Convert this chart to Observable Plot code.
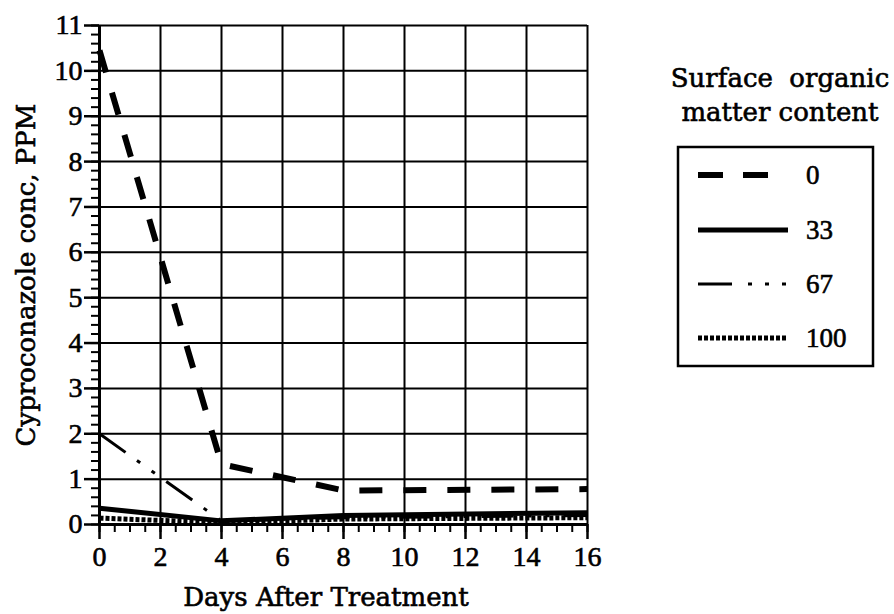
<!DOCTYPE html>
<html><head><meta charset="utf-8">
<script src="https://cdn.jsdelivr.net/npm/d3@7"></script>
<script src="https://cdn.jsdelivr.net/npm/@observablehq/plot@0.6"></script>
<style>
body{margin:0;background:#fff;}
#wrap{position:relative;width:894px;height:614px;overflow:hidden;background:#fff;}
#legend{position:absolute;left:0;top:0;}
#wrap svg text{stroke:#000;stroke-width:0.6px;paint-order:stroke;}
</style></head><body>
<div id="wrap"></div>
<script>
// ---- data ----
const days = [0, 4, 8, 16];
const om0 = [10.45, 1.33, 0.75, 0.78];
const om33 = [0.36, 0.08, 0.2, 0.26];
const om67 = [2.0, 0.08, 0.15, 0.2];
const om100 = [0.14, 0.04, 0.12, 0.15];
const seriesNames = ["0", "33", "67", "100"];
const xTicks = [0, 2, 4, 6, 8, 10, 12, 14, 16];
const yTicks = [0, 1, 2, 3, 4, 5, 6, 7, 8, 9, 10, 11];
const xLabel = "Days After Treatment";
const yLabel = "Cyproconazole conc, PPM";
const legendTitle = ["Surface  organic", "matter content"];

// ---- styles ----
const titleFont = "'DejaVu Serif', serif";
const numFont = "'Liberation Serif', serif";
const styles = {
  "0":   {strokeWidth: 6,   strokeDasharray: "23,21", legendDash: "25,20", legendLen: 70},
  "33":  {strokeWidth: 5,   strokeDasharray: null, legendDash: null, legendLen: 90},
  "67":  {strokeWidth: 3,   strokeDasharray: "32,14,4,14,4,14", legendDash: "34,16,4,13,4,13,4,200", legendLen: 90},
  "100": {strokeWidth: 5,   strokeDasharray: "4,2", legendDash: "4,2", legendLen: 90}
};
const seriesVals = {"0": om0, "33": om33, "67": om67, "100": om100};
const rows = s => days.map((d, i) => ({day: d, ppm: seriesVals[s][i], s}));

const minorX = d3.range(0, 33).map(i => i * 0.5);
const minorY = d3.range(0, 56).map(i => +(i * 0.2).toFixed(1));
const drawOrder = ["100", "67", "33", "0"];

const chart = Plot.plot({
  width: 894, height: 614,
  marginLeft: 99, marginRight: 307, marginTop: 25, marginBottom: 90,
  style: {fontFamily: numFont, background: "white", color: "black", overflow: "visible"},
  x: {domain: [0, 16]},
  y: {domain: [0, 11]},
  marks: [
    Plot.gridX(xTicks, {stroke: "black", strokeOpacity: 1, strokeWidth: 2}),
    Plot.gridY(yTicks, {stroke: "black", strokeOpacity: 1, strokeWidth: 2}),
    Plot.axisX(minorX, {tickSize: 8, tickFormat: () => "", label: null, strokeWidth: 2}),
    Plot.axisX(xTicks, {tickSize: 15, tickPadding: 7, fontSize: 28, strokeWidth: 2.5, label: null}),
    Plot.axisY(minorY, {tickSize: 8, tickFormat: () => "", label: null, strokeWidth: 2}),
    Plot.axisY(yTicks, {tickSize: 15, tickPadding: 2, fontSize: 28, strokeWidth: 2.5, label: null}),
    Plot.ruleX([0], {stroke: "black", strokeWidth: 3}),
    Plot.ruleY([0], {stroke: "black", strokeWidth: 3}),
    ...drawOrder.map(s => Plot.line(rows(s), {
      x: "day", y: "ppm", stroke: "black",
      strokeWidth: styles[s].strokeWidth,
      strokeDasharray: styles[s].strokeDasharray,
      strokeLinecap: "butt", strokeLinejoin: "miter"
    }))
  ]
});
document.getElementById("wrap").appendChild(chart);

// ---- axis titles and legend ----
const lg = d3.select("#wrap").append("svg").attr("id", "legend")
  .attr("width", 894).attr("height", 614);
lg.append("text").attr("x", 326).attr("y", 606).attr("text-anchor", "middle")
  .attr("font-family", titleFont).attr("font-size", 26).text(xLabel);
lg.append("text").attr("transform", "translate(35,275) rotate(-90)").attr("text-anchor", "middle")
  .attr("font-family", titleFont).attr("font-size", 26).text(yLabel);

lg.selectAll("text.title").data(legendTitle).join("text")
  .attr("class", "title")
  .attr("x", 780).attr("y", (d, i) => 87 + i * 34)
  .attr("text-anchor", "middle")
  .attr("xml:space", "preserve").style("white-space", "pre")
  .attr("font-family", titleFont).attr("font-size", 26)
  .text(d => d);
lg.append("rect").attr("x", 678).attr("y", 147).attr("width", 195).attr("height", 219)
  .attr("fill", "none").attr("stroke", "black").attr("stroke-width", 2.5);
const ly = [175, 230, 284, 338];
seriesNames.forEach((s, i) => {
  lg.append("line").attr("x1", 698).attr("x2", 698 + styles[s].legendLen)
    .attr("y1", ly[i]).attr("y2", ly[i])
    .attr("stroke", "black").attr("stroke-width", styles[s].strokeWidth)
    .attr("stroke-dasharray", styles[s].legendDash);
  lg.append("text").attr("x", 806).attr("y", ly[i]).attr("dy", "0.35em")
    .attr("font-family", numFont).attr("font-size", 27).text(s);
});
</script>
</body></html>
